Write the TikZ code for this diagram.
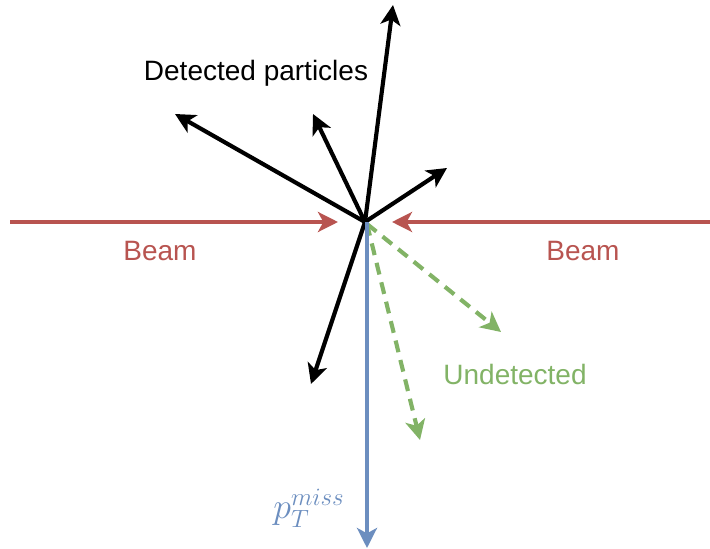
\documentclass[tikz,border=0pt]{standalone}
\usepackage{fontspec}
\setmainfont{Liberation Sans}
\usetikzlibrary{arrows.meta}
\definecolor{beamred}{HTML}{B85450}
\definecolor{undgreen}{HTML}{82B366}
\definecolor{missblue}{HTML}{6C8EBF}
\begin{document}
\begin{tikzpicture}[x=0.75pt,y=-0.75pt,
  tip/.style={-{Stealth[length=15pt,width=15pt,inset=4pt]}},
  vec/.style={tip,line width=3.1pt},
  particle/.style={vec,black},
  beamarrow/.style={vec,beamred},
  invisible/.style={vec,undgreen,dash pattern=on 9pt off 6pt},
  missing/.style={vec,missblue},
  lbl/.style={font=\fontsize{21}{25}\selectfont,inner sep=0pt}]
\useasboundingbox (0,0) rectangle (710,549);
\coordinate (O) at (365,222);
\coordinate (Og) at (367,224);
\coordinate (Ob) at (367,222);
% detected particles
\coordinate (p1) at (393,5);
\coordinate (p2) at (175,114);
\coordinate (p3) at (313,114);
\coordinate (p4) at (447,168);
\coordinate (p5) at (311,384);
\draw[particle] (O) -- (p1);
\draw[particle] (O) -- (p2);
\draw[particle] (O) -- (p3);
\draw[particle] (O) -- (p4);
\draw[particle] (O) -- (p5);
% beams
\coordinate (bl) at (10,222);
\coordinate (blt) at (338,222);
\coordinate (br) at (710,222);
\coordinate (brt) at (392,222);
\draw[beamarrow] (bl) -- (blt);
\draw[beamarrow] (br) -- (brt);
% undetected
\coordinate (u1) at (501,332);
\coordinate (u2) at (420,440);
\draw[invisible] (Og) -- (u1);
\draw[invisible] (Og) -- (u2);
% missing pT
\coordinate (m) at (367,548);
\draw[missing] (Ob) -- (m);
% labels
\node[lbl] (det) at (256,73) {Detected particles};
\node[lbl,text=beamred] (beamL) at (160,251) {Beam};
\node[lbl,text=beamred] (beamR) at (583,251) {Beam};
\node[lbl,text=undgreen] (und) at (515,374) {Undetected};
\node[inner sep=0pt,text=missblue,font=\fontsize{20.74}{25}\selectfont,scale=1.3] (pt) at (309,508) {$p_T^{miss}$};
\end{tikzpicture}
\end{document}
